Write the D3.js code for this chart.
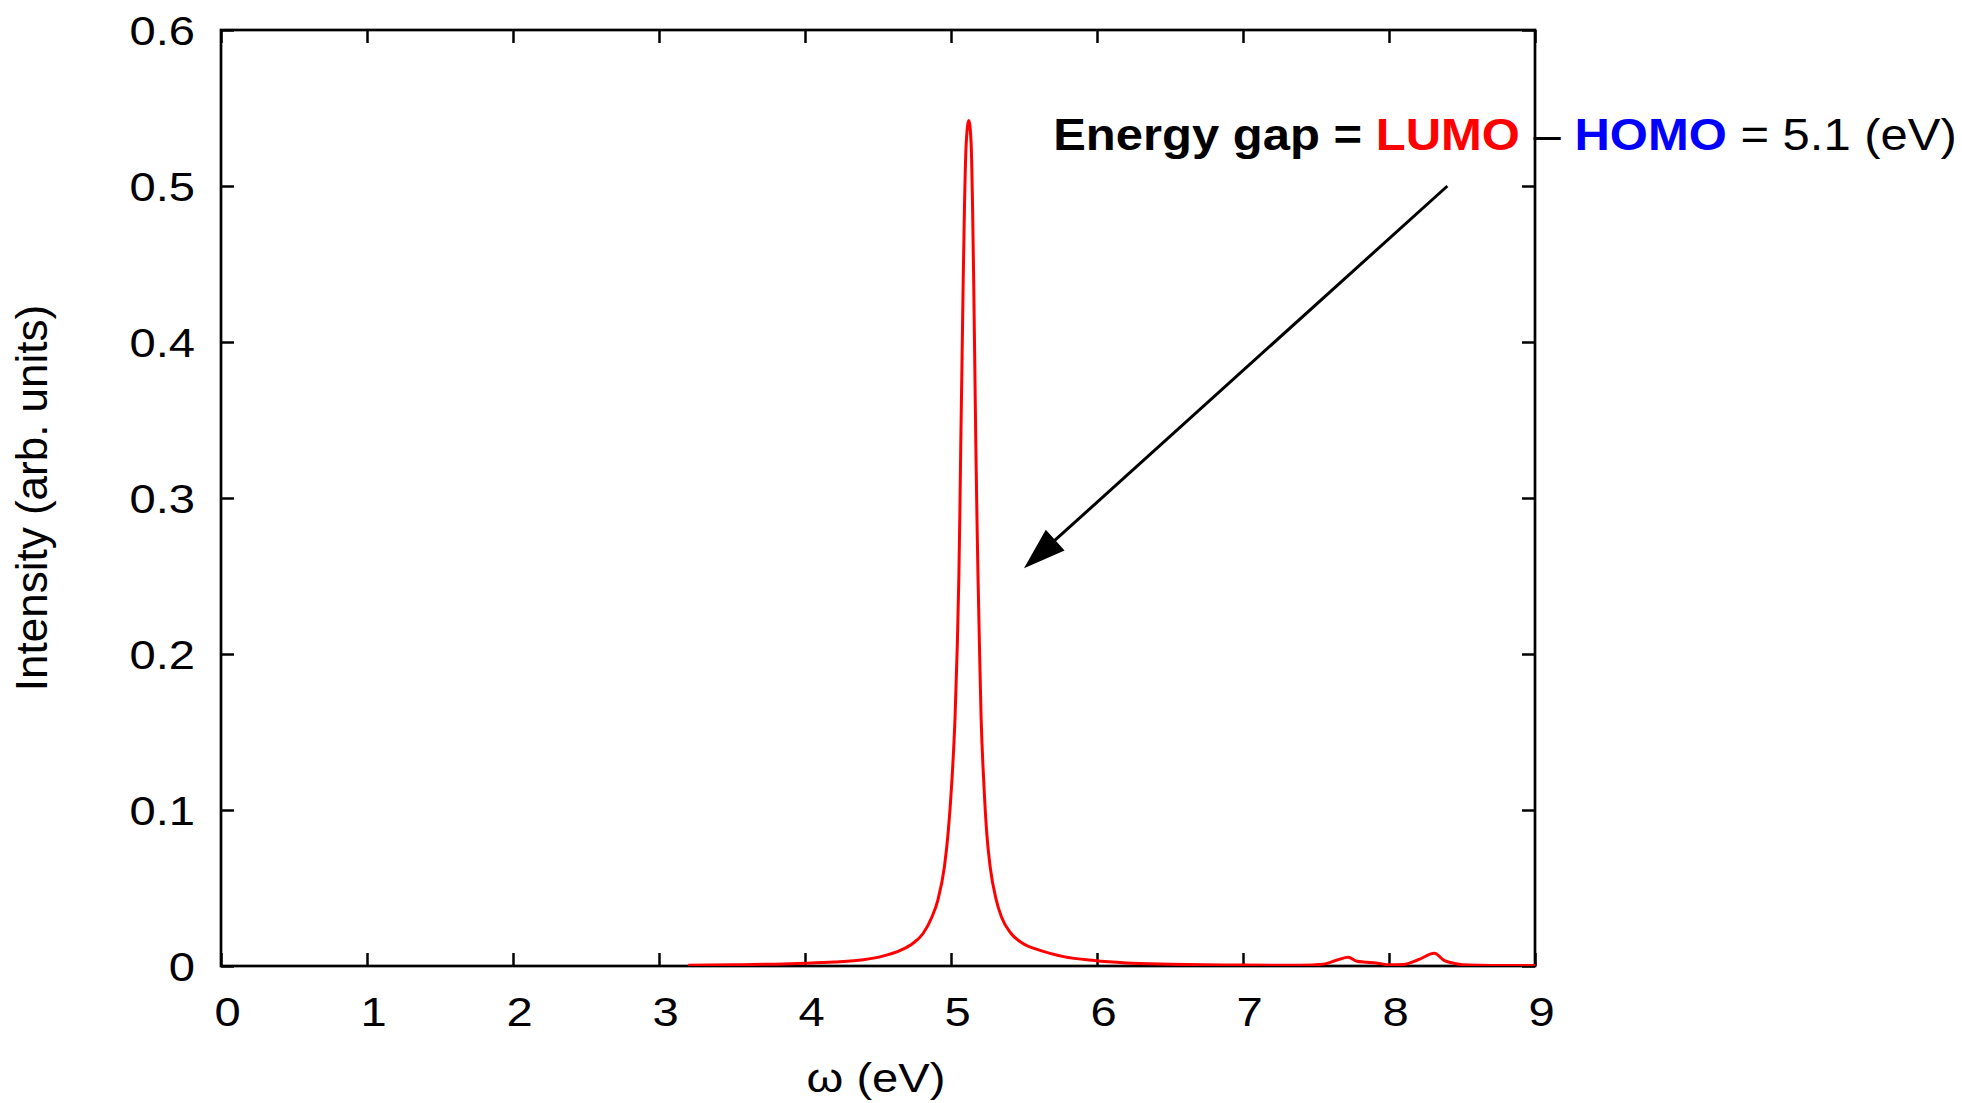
<!DOCTYPE html>
<html>
<head>
<meta charset="utf-8">
<script src="https://cdn.jsdelivr.net/npm/d3@7"></script>
<style>
body { margin: 0; background: #fff; }
text { font-family: "Liberation Sans", Arial, sans-serif; white-space: pre; }
</style>
</head>
<body>
<div id="chart"></div>
<script>
// spectrum
let omega = [3.2, 3.5, 3.8, 4.0, 4.2, 4.4, 4.52, 4.66, 4.74, 4.81, 4.87, 4.91, 4.955, 4.98, 5.005,
    5.028, 5.043, 5.054, 5.061, 5.067, 5.074, 5.084, 5.092, 5.104, 5.122,
    5.138, 5.148, 5.155, 5.164, 5.17, 5.177, 5.185, 5.195, 5.206, 5.225,
    5.245, 5.268, 5.31, 5.345, 5.41, 5.49, 5.6, 5.77, 5.98, 6.2,
    6.5, 7.0, 7.4, 7.55, 7.65, 7.72, 7.78, 7.85, 7.92, 8.0,
    8.1, 8.2, 8.31, 8.38, 8.46, 8.55, 8.7, 9.0]
let intensity = [0.0005, 0.0008, 0.0012, 0.0017, 0.0025, 0.004, 0.006, 0.0103, 0.0146, 0.021, 0.0316, 0.0423, 0.0637, 0.085, 0.117,
    0.16, 0.205, 0.25, 0.292, 0.335, 0.378, 0.442, 0.485, 0.527, 0.542,
    0.527, 0.485, 0.442, 0.378, 0.335, 0.292, 0.25, 0.205, 0.16, 0.117,
    0.085, 0.0637, 0.0423, 0.0316, 0.021, 0.0146, 0.0103, 0.006, 0.0035, 0.002,
    0.0012, 0.0006, 0.0005, 0.0012, 0.004, 0.0056, 0.003, 0.0024, 0.0018, 0.0008,
    0.001, 0.004, 0.0081, 0.0034, 0.0015, 0.0006, 0.0003, 0.0003]

let xTicks = [0, 1, 2, 3, 4, 5, 6, 7, 8, 9]
let xTickLabels = ["0", "1", "2", "3", "4", "5", "6", "7", "8", "9"]
let yTicks = [0, 0.1, 0.2, 0.3, 0.4, 0.5, 0.6]
let yTickLabels = ["0", "0.1", "0.2", "0.3", "0.4", "0.5", "0.6"]
let xTitle = "ω (eV)"
let yTitle = "Intensity (arb. units)"

// annotation (data coords)
let noteText = ["Energy gap = ", "LUMO", " – ", "HOMO", " = 5.1 (eV)"]
let notePos = [5.7, 0.523]
let arrowFrom = [8.4, 0.5]
let arrowTo = [5.5, 0.255]

let margin = { top: 30, right: 427, bottom: 137, left: 221 }
let width = 1962 - margin.left - margin.right,
    height = 1103 - margin.top - margin.bottom

let svg = d3.select("#chart").append("svg")
    .attr("width", width + margin.left + margin.right)
    .attr("height", height + margin.top + margin.bottom)
    .append("g")
    .attr("transform", "translate(" + margin.left + "," + margin.top + ")")

let x = d3.scaleLinear().domain([0, 9]).range([0, width])
let y = d3.scaleLinear().domain([0, 0.6]).range([height, 0])

let stretch = 1.15

// frame
svg.append("rect")
    .attr("width", width)
    .attr("height", height)
    .attr("fill", "none")
    .attr("stroke", "#000")
    .attr("stroke-width", 2.7)

// ticks on all four sides, pointing in
let bottomAx = svg.append("g")
    .attr("transform", "translate(0," + height + ")")
    .call(d3.axisBottom(x).tickValues(xTicks).tickSize(-13).tickPadding(31)
        .tickFormat(function(d, i) { return xTickLabels[i] }))
let topAx = svg.append("g")
    .call(d3.axisTop(x).tickValues(xTicks).tickSize(-13).tickFormat(""))
let leftAx = svg.append("g")
    .call(d3.axisLeft(y).tickValues(yTicks).tickSize(-13)
        .tickFormat(function(d, i) { return yTickLabels[i] }))
let rightAx = svg.append("g")
    .attr("transform", "translate(" + width + ",0)")
    .call(d3.axisRight(y).tickValues(yTicks).tickSize(-13).tickFormat(""))

for (let ax of [bottomAx, topAx, leftAx, rightAx]) {
    ax.select(".domain").remove()
    ax.selectAll(".tick line").attr("stroke", "#000").attr("stroke-width", 2.5)
}

bottomAx.selectAll(".tick text")
    .attr("font-size", 41)
    .attr("fill", "#000")
    .attr("transform", "translate(6,0) scale(" + stretch + ",1)")

leftAx.selectAll(".tick text")
    .attr("x", 0)
    .attr("dy", "0.36em")
    .attr("font-size", 41)
    .attr("fill", "#000")
    .attr("transform", "translate(-26,0) scale(" + stretch + ",1)")

// axis titles
svg.append("text")
    .attr("text-anchor", "middle")
    .attr("font-size", 41)
    .attr("transform", "translate(" + (width / 2 - 2) + "," + (height + 126) + ") scale(" + stretch + ",1)")
    .text(xTitle)

svg.append("text")
    .attr("text-anchor", "middle")
    .attr("font-size", 44)
    .attr("transform", "translate(-174," + (height / 2) + ") rotate(-90)")
    .text(yTitle)

// the spectrum
svg.append("clipPath").attr("id", "plotClip")
    .append("rect").attr("width", width).attr("height", height)

let points = omega.map(function(w, i) { return [w, intensity[i]] })

let line = d3.line()
    .x(function(d) { return x(d[0]) })
    .y(function(d) { return y(d[1]) })
    .curve(d3.curveMonotoneX)

svg.append("path")
    .datum(points)
    .attr("clip-path", "url(#plotClip)")
    .attr("fill", "none")
    .attr("stroke", "#ff0000")
    .attr("stroke-width", 3)
    .attr("stroke-linejoin", "round")
    .attr("d", line)

// label
let noteColors = ["#000", "#ff0000", "#000", "#0000ff", "#000"]
let noteWeights = ["bold", "bold", "normal", "bold", "normal"]
let note = svg.append("text")
    .attr("font-size", 44)
note.selectAll("tspan")
    .data(noteText)
    .enter()
    .append("tspan")
    .attr("fill", function(d, i) { return noteColors[i] })
    .attr("font-weight", function(d, i) { return noteWeights[i] })
    .text(function(d) { return d })
let noteWidth = note.node().getComputedTextLength()
note.attr("transform", "translate(" + x(notePos[0]) + "," + y(notePos[1]) + ") scale(" + (904 / noteWidth) + ",1)")

// arrow
let x1 = x(arrowFrom[0]), y1 = y(arrowFrom[1])
let x2 = x(arrowTo[0]), y2 = y(arrowTo[1])
let ang = Math.atan2(y2 - y1, x2 - x1)
let headLen = 42, headHalf = 14
let bx = x2 - headLen * Math.cos(ang), by = y2 - headLen * Math.sin(ang)

svg.append("line")
    .attr("x1", x1).attr("y1", y1)
    .attr("x2", bx + 4 * Math.cos(ang)).attr("y2", by + 4 * Math.sin(ang))
    .attr("stroke", "#000")
    .attr("stroke-width", 3)

svg.append("path")
    .attr("d", "M" + x2 + "," + y2 +
        "L" + (bx + headHalf * Math.sin(ang)) + "," + (by - headHalf * Math.cos(ang)) +
        "L" + (bx - headHalf * Math.sin(ang)) + "," + (by + headHalf * Math.cos(ang)) + "Z")
    .attr("fill", "#000")
</script>
</body>
</html>
